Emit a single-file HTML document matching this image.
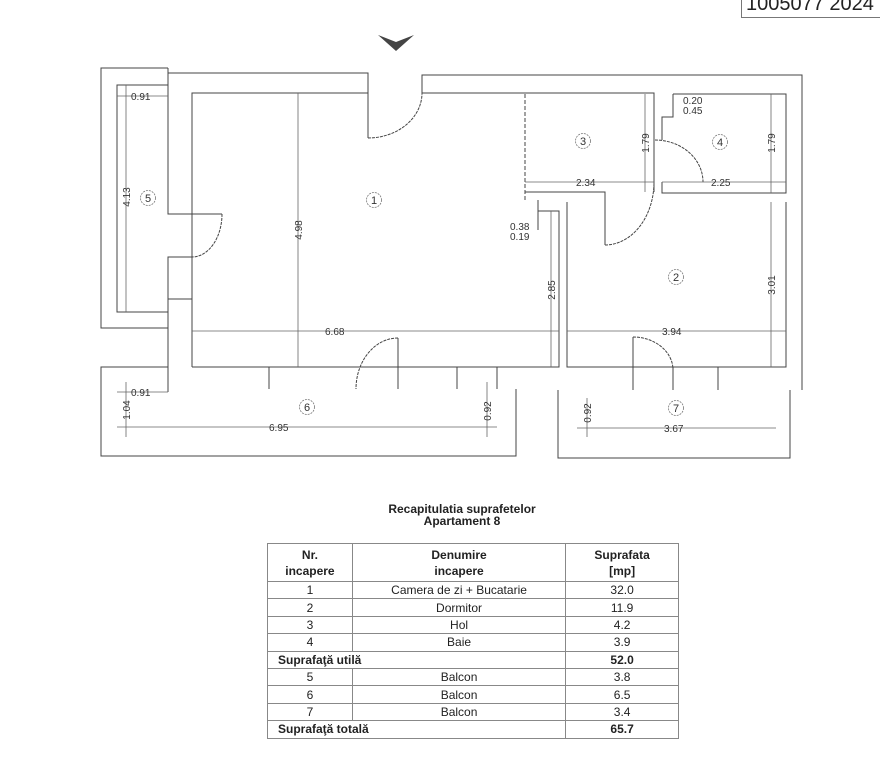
<!DOCTYPE html>
<html><head><meta charset="utf-8"><style>
html,body{margin:0;padding:0;background:#fff;}
body{width:880px;height:768px;position:relative;overflow:hidden;font-family:"Liberation Sans",sans-serif;}
svg{position:absolute;left:0;top:0;}
.t{font-family:"Liberation Sans",sans-serif;font-size:10px;fill:#333;}
#tag{position:absolute;left:741px;top:-6px;width:150px;height:24px;border:1.5px solid #777;border-right:none;font-size:20px;line-height:18px;color:#222;padding-left:4px;box-sizing:border-box;}
#title{position:absolute;left:262px;width:400px;top:503px;text-align:center;font-weight:bold;font-size:12px;line-height:12px;color:#222;}
table{position:absolute;left:267px;top:543px;width:412px;border-collapse:collapse;font-size:12px;color:#222;}
td{border:1px solid #888;padding:0;text-align:center;height:16.4px;line-height:14px;}
td.h{height:37px;font-weight:bold;line-height:16px;}
.b{font-weight:bold;}
.l{text-align:left;padding-left:10px;}
</style></head><body>
<div id="tag">1005077 2024</div>
<svg width="880" height="768" viewBox="0 0 880 768">
<g fill="none" stroke="#444" stroke-width="1">
<path d="M378,35 L396,42 L414,35 L396,51 Z" fill="#444" stroke="none"/>
<path d="M168,68 H101 V328 H168"/>
<path d="M168,85 H117 V312 H168"/>
<path d="M168,68 V73 H368 V93"/>
<path d="M422,93 V75 H802 V390"/>
<path d="M192,367 V93 H368"/>
<path d="M422,93 H654 V182"/>
<path d="M673,94 H786 V193 H662 V182"/>
<path d="M673,94 V117 H662 V140"/>
<path d="M168,73 V214 H222"/>
<path d="M168,392 V257 H192"/>
<path d="M168,299 H192"/>
<path d="M368,93 V138"/>
<path d="M368,138 A54,45 0 0 0 422,93" stroke-dasharray="3,1"/>
<path d="M222,214 A30,43 0 0 1 192,257" stroke-dasharray="3,1"/>
<path d="M525,94 V200" stroke-dasharray="4,2"/>
<path d="M525,192 H605 V245"/>
<path d="M605,245 A49,63 0 0 0 654,182" stroke-dasharray="3,1"/>
<path d="M654,182 V192"/>
<path d="M655,140 A48,42 0 0 1 703,182" stroke-dasharray="3,1"/>
<path d="M538,200 V230"/>
<path d="M538,211 H559 V367 H192"/>
<path d="M567,202 V367 H786 V202"/>
<path d="M269,367 V389 M398,367 V389 M457,367 V389 M497,367 V389"/>
<path d="M398,338 V367"/>
<path d="M398,338 A42,51 0 0 0 356,389" stroke-dasharray="3,1"/>
<path d="M633,337 V390 M673,367 V390 M718,367 V390"/>
<path d="M633,337 A40,33 0 0 1 673,370" stroke-dasharray="3,1"/>
<path d="M168,367 H101 V456 H516 V389"/>
<path d="M558,390 V458 H790 V390"/>
</g>
<g fill="none" stroke="#666" stroke-width="0.8">
<path d="M117,96 H168 M126,85 V312"/>
<path d="M298,93 V367"/>
<path d="M192,331 H559 M567,331 H786"/>
<path d="M551,211 V367"/>
<path d="M771,202 V367 M771,94 V193 M645,94 V192"/>
<path d="M525,182 H654 M662,182 H786"/>
<path d="M117,392 H168 M126,382 V437 M117,427 H497 M487,382 V437"/>
<path d="M577,428 H776 M587,398 V437"/>
</g>
<g class="t">
<text x="131" y="100">0.91</text>
<text x="131" y="396">0.91</text>
<text x="325" y="335">6.68</text>
<text x="269" y="431">6.95</text>
<text x="662" y="335">3.94</text>
<text x="664" y="432">3.67</text>
<text x="576" y="186">2.34</text>
<text x="711" y="186">2.25</text>
<text x="510" y="230">0.38</text>
<text x="510" y="240">0.19</text>
<text x="683" y="104">0.20</text>
<text x="683" y="114">0.45</text>
<text transform="translate(130,197) rotate(-90)" text-anchor="middle">4.13</text>
<text transform="translate(302,230) rotate(-90)" text-anchor="middle">4.98</text>
<text transform="translate(555,290) rotate(-90)" text-anchor="middle">2.85</text>
<text transform="translate(775,285) rotate(-90)" text-anchor="middle">3.01</text>
<text transform="translate(775,143) rotate(-90)" text-anchor="middle">1.79</text>
<text transform="translate(649,143) rotate(-90)" text-anchor="middle">1.79</text>
<text transform="translate(130,410) rotate(-90)" text-anchor="middle">1.04</text>
<text transform="translate(491,411) rotate(-90)" text-anchor="middle">0.92</text>
<text transform="translate(591,413) rotate(-90)" text-anchor="middle">0.92</text>
</g>
<g fill="none" stroke="#777" stroke-width="0.8" stroke-dasharray="2,1">
<circle cx="374" cy="200" r="7.5"/><circle cx="676" cy="277" r="7.5"/>
<circle cx="583" cy="141" r="7.5"/><circle cx="720" cy="142" r="7.5"/>
<circle cx="148" cy="198" r="7.5"/><circle cx="307" cy="407" r="7.5"/>
<circle cx="676" cy="408" r="7.5"/>
</g>
<g font-family="Liberation Sans,sans-serif" font-size="11" fill="#333" text-anchor="middle">
<text x="374" y="204">1</text><text x="676" y="281">2</text><text x="583" y="145">3</text>
<text x="720" y="146">4</text><text x="148" y="202">5</text><text x="307" y="411">6</text>
<text x="676" y="412">7</text>
</g>
</svg>
<div id="title">Recapitulatia suprafetelor<br>Apartament 8</div>
<table>
<colgroup><col style="width:85px"><col style="width:214px"><col style="width:113px"></colgroup>
<tr><td class="h">Nr.<br>incapere</td><td class="h">Denumire<br>incapere</td><td class="h">Suprafata<br>[mp]</td></tr>
<tr><td>1</td><td>Camera de zi + Bucatarie</td><td>32.0</td></tr>
<tr><td>2</td><td>Dormitor</td><td>11.9</td></tr>
<tr><td>3</td><td>Hol</td><td>4.2</td></tr>
<tr><td>4</td><td>Baie</td><td>3.9</td></tr>
<tr><td colspan="2" class="b l">Suprafaţă utilă</td><td class="b">52.0</td></tr>
<tr><td>5</td><td>Balcon</td><td>3.8</td></tr>
<tr><td>6</td><td>Balcon</td><td>6.5</td></tr>
<tr><td>7</td><td>Balcon</td><td>3.4</td></tr>
<tr><td colspan="2" class="b l">Suprafaţă totală</td><td class="b">65.7</td></tr>
</table>
</body></html>
